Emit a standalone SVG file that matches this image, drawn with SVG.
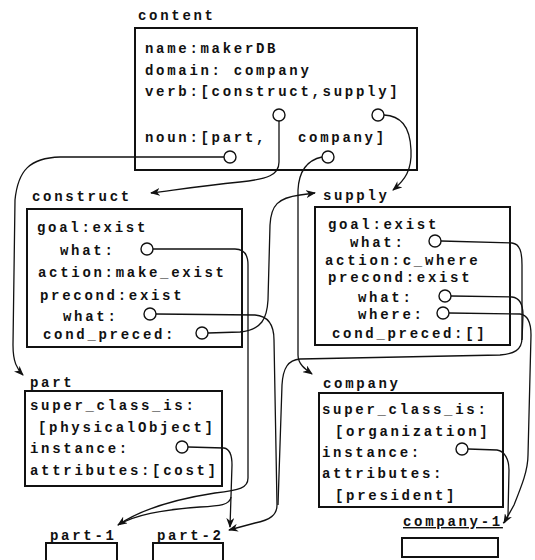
<svg xmlns="http://www.w3.org/2000/svg" width="535" height="560" viewBox="0 0 535 560">
<defs>
<style>
text{font-family:"Liberation Mono","DejaVu Sans Mono",monospace;font-size:14px;font-weight:bold;letter-spacing:2.7px;fill:#111}
.box{fill:#fff;stroke:#111;stroke-width:2}
.c{fill:#fff;stroke:#111;stroke-width:1.4}
.ln{fill:none;stroke:#111;stroke-width:1.3}
</style>
<marker id="ah" markerWidth="10" markerHeight="8" refX="9" refY="4" orient="auto" markerUnits="userSpaceOnUse">
<path d="M0,0 L10,4 L0,8 L3,4 Z" fill="#111"/>
</marker>
</defs>
<rect width="535" height="560" fill="#fff"/>

<g id="content">
<text x="138" y="20">content</text>
<rect class="box" x="135" y="28" width="282" height="142"/>
<text x="145" y="53">name:makerDB</text>
<text x="145" y="75">domain: company</text>
<text x="145" y="96">verb:[construct,supply]</text>
<text x="145" y="142">noun:[part,<tspan x="298">company]</tspan></text>
<circle class="c" cx="279" cy="115" r="6"/>
<circle class="c" cx="378" cy="115" r="6"/>
<circle class="c" cx="230" cy="157" r="6"/>
<circle class="c" cx="328" cy="157" r="6"/>
</g>

<g id="construct">
<text x="32" y="201">construct</text>
<rect class="box" x="27" y="209" width="215" height="138"/>
<text x="37" y="232">goal:exist</text>
<text x="60" y="255">what:</text>
<text x="38" y="277">action:make_exist</text>
<text x="40" y="300">precond:exist</text>
<text x="63" y="321">what:</text>
<text x="43" y="339">cond_preced:</text>
<circle class="c" cx="147" cy="249" r="6"/>
<circle class="c" cx="150" cy="314" r="6"/>
<circle class="c" cx="202" cy="333" r="6"/>
</g>

<g id="supply">
<text x="323" y="200">supply</text>
<rect class="box" x="315" y="207" width="195" height="138"/>
<text x="328" y="229">goal:exist</text>
<text x="350" y="247">what:</text>
<text x="325" y="265">action:c_where</text>
<text x="328" y="282">precond:exist</text>
<text x="358" y="302">what:</text>
<text x="358" y="319">where:</text>
<text x="332" y="338">cond_preced:[]</text>
<circle class="c" cx="435" cy="241" r="6"/>
<circle class="c" cx="445" cy="296" r="6"/>
<circle class="c" cx="443" cy="313" r="6"/>
</g>

<g id="part">
<text x="30" y="387">part</text>
<rect class="box" x="25" y="391" width="197" height="95"/>
<text x="30" y="410">super_class_is:</text>
<text x="38" y="432">[physicalObject]</text>
<text x="30" y="453">instance:</text>
<text x="30" y="475">attributes:[cost]</text>
<circle class="c" cx="182" cy="447" r="6"/>
</g>

<g id="company">
<text x="323" y="388">company</text>
<rect class="box" x="319" y="393" width="184" height="114"/>
<text x="322" y="414">super_class_is:</text>
<text x="335" y="436">[organization]</text>
<text x="322" y="457">instance:</text>
<text x="322" y="478">attributes:</text>
<text x="335" y="500">[president]</text>
<circle class="c" cx="462" cy="449" r="6"/>
</g>

<g id="part-1">
<text x="50" y="540">part-1</text>
<rect class="box" x="46" y="543" width="71" height="25"/>
</g>

<g id="part-2">
<text x="157" y="540">part-2</text>
<rect class="box" x="153" y="543" width="70" height="25"/>
</g>

<g id="company-1">
<text x="403" y="526" text-decoration="underline">company-1</text>
<rect class="box" x="402" y="538" width="96" height="19"/>
</g>

<g id="connectors">
<path class="ln" d="M224,157 L60,157 C30,158 18,170 15,200 L13,345 C13,362 17,369 23,375" marker-end="url(#ah)"/>
<path class="ln" d="M279,121 L279,162 C279,175 268,179 240,182 C200,186 175,190 151,193" marker-end="url(#ah)"/>
<path class="ln" d="M384,115 C400,116 410,125 411,150 C412,170 405,180 393,190" marker-end="url(#ah)"/>
<path class="ln" d="M322,157 C308,160 299,170 298,190 L298,355 C298,364 305,369 312,374" marker-end="url(#ah)"/>
<path class="ln" d="M153,249 L235,249 C244,249 248,255 248,265 L248,478 C248,488 240,490 215,493 C170,500 140,510 118,525" marker-end="url(#ah)"/>
<path class="ln" d="M156,314 L255,315 C268,316 274,325 274,340 L277,505 C277,515 270,520 255,523 L229,530" marker-end="url(#ah)"/>
<path class="ln" d="M208,333 L240,332 C262,330 267,318 268,300 L270,225 C271,205 278,198 300,195 L315,193" marker-end="url(#ah)"/>
<path class="ln" d="M441,241 L512,243 C520,244 522,252 522,265 L522,338 C522,350 514,354 500,355 L300,359 C288,360 283,368 282,385 L278,505"/>
<path class="ln" d="M451,296 L512,297 C520,298 523,305 523,315 L522,340"/>
<path class="ln" d="M449,313 L520,314 C528,315 531,322 531,335 L528,455 C528,470 522,485 514,505 L504,523" marker-end="url(#ah)"/>
<path class="ln" d="M188,447 L224,448 C230,449 232,455 232,465 L230,527" marker-end="url(#ah)"/>
<path class="ln" d="M231,497 C230,505 220,506 200,507 C160,510 135,515 118,525"/>
<path class="ln" d="M468,449 L497,450 C505,451 509,460 509,470 L508,515 C507,520 505,522 503,523"/>
</g>
</svg>
